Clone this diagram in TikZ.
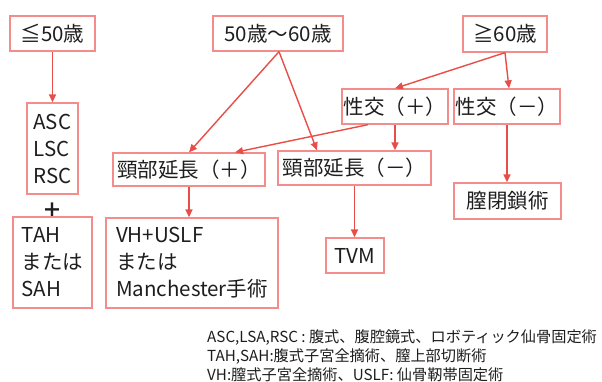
\documentclass[tikz,border=0pt]{standalone}
\usepackage{fontspec}
\setmainfont{Noto Sans CJK JP}
\usetikzlibrary{arrows.meta,calc}
\definecolor{boxc}{RGB}{244,140,140}
\definecolor{arrc}{RGB}{232,78,72}
\definecolor{txtc}{RGB}{30,30,30}
\begin{document}
\begin{tikzpicture}[x=1pt,y=-1pt,
  box/.style={draw=boxc,line width=1.3pt,inner sep=0pt,text=txtc,font=\fontsize{20.5}{27}\selectfont,align=left},
  arr/.style={draw=arrc,line width=1.4pt,-{Triangle[length=8pt,width=7pt]}},
  legendtext/.style={text=txtc,font=\fontsize{15.2}{19}\selectfont,align=left,inner sep=0pt}]
\useasboundingbox[fill=white] (0,0) rectangle (602,381);
% boxes
\node[box,minimum width=85pt,minimum height=35pt] (le50) at (52.5,33.5) {≦50歳};
\node[box,minimum width=130pt,minimum height=35pt] (mid) at (278,33.5) {50歳〜60歳};
\node[box,minimum width=84pt,minimum height=36pt] (ge60) at (505,34) {≧60歳};
\node[box,minimum width=51pt,minimum height=91pt] (asc) at (52.5,148.5) {ASC\\LSC\\RSC};
\node[text=txtc,font=\bfseries\fontsize{20}{20}\selectfont,inner sep=0pt] (plus) at (52,210) {＋};
\node[box,minimum width=79pt,minimum height=91pt] (tah) at (52.5,262.5) {TAH\\または\\SAH};
\node[box,minimum width=106pt,minimum height=35pt] (sp) at (395,106.5) {性交（＋）};
\node[box,minimum width=106pt,minimum height=35pt] (sm) at (507,106.5) {性交（－）};
\node[box,minimum width=152pt,minimum height=33pt] (kp) at (189,169.5) {頸部延長（＋）};
\node[box,minimum width=153pt,minimum height=34pt] (km) at (354.5,168) {頸部延長（－）};
\node[box,minimum width=172pt,minimum height=90pt] (vh) at (192,263) {VH+USLF\\または\\Manchester手術};
\node[box,minimum width=58pt,minimum height=35pt] (tvm) at (355,255.5) {TVM};
\node[box,minimum width=107pt,minimum height=36pt] (vc) at (507.5,201) {膣閉鎖術};
% legend
\node[legendtext,anchor=north west] (leg) at (207,329) {ASC,LSA,RSC : 腹式、腹腔鏡式、ロボティック仙骨固定術\\TAH,SAH:腹式子宮全摘術、膣上部切断術\\VH:膣式子宮全摘術、USLF: 仙骨靭帯固定術};
% arrows
\draw[arr] (le50.south) -- (asc.north);
\draw[arr] ([xshift=1pt]mid.south) -- (kp.north);
\draw[arr] ([xshift=1pt]mid.south) -- ([xshift=-37.5pt]km.north);
\draw[arr] (ge60.south) -- (sp.north);
\draw[arr] (ge60.south) -- ([xshift=2pt]sm.north);
\draw[arr] ([xshift=-27pt]sp.south) -- ([xshift=46pt]kp.north);
\draw[arr] (sp.south) -- (sp.south |- km.north);
\draw[arr] (sm.south) -- (sm.south |- vc.north);
\draw[arr] (kp.south) -- (kp.south |- vh.north);
\draw[arr] (km.south) -- (km.south |- tvm.north);
\end{tikzpicture}
\end{document}
